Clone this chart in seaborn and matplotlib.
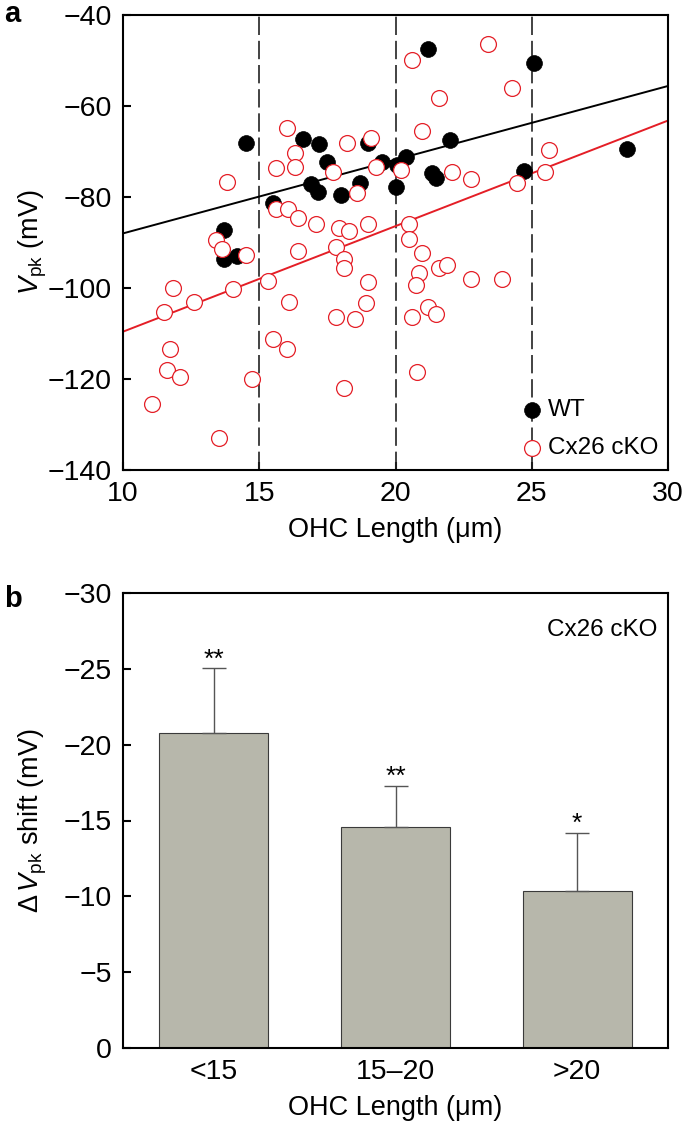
import matplotlib
matplotlib.use("Agg")
import matplotlib.pyplot as plt
import seaborn as sns
import pandas as pd

# panel a: OHC length vs Vpk
wt_length = [14.5, 16.6, 16.9, 17.15, 17.2, 17.5, 18.0, 18.7, 19.0, 19.5, 20.0, 20.05,
             20.4, 21.2, 22.0, 21.35, 21.5, 25.1, 24.7, 28.5, 15.5, 13.7, 13.7, 14.2]
wt_vpk = [-68.2, -67.3, -77.2, -78.8, -68.4, -72.2, -79.6, -76.9, -68.1, -72.2, -77.7, -73.0,
          -71.3, -47.5, -67.5, -74.8, -75.9, -50.6, -74.2, -69.5, -81.4, -87.3, -93.6, -92.9]

ko_length = [16.0, 16.33, 15.6, 16.33, 13.8, 15.6, 16.06, 16.42, 13.42, 20.59, 23.4, 21.58,
             20.98, 18.22, 19.1, 17.7, 19.3, 20.19, 18.6, 22.07, 22.78, 17.09, 17.92, 18.3,
             19.0, 20.49, 20.49, 17.82, 20.98, 24.28, 25.65, 25.47, 24.47, 13.63, 14.52, 16.42,
             11.83, 11.5, 12.62, 14.03, 15.31, 16.09, 11.72, 11.63, 12.11, 14.72, 15.51, 16.02,
             11.05, 13.53, 18.1, 18.1, 19.0, 20.85, 20.76, 21.58, 21.88, 22.78, 18.9, 17.82,
             18.51, 21.2, 21.49, 20.59, 20.8, 18.1, 23.9]
ko_vpk = [-64.9, -70.3, -73.6, -73.3, -76.6, -82.7, -82.6, -84.7, -89.5, -49.9, -46.4, -58.3,
          -65.5, -68.1, -67.1, -74.4, -73.5, -74.1, -79.2, -74.4, -76.1, -86.0, -86.9, -87.4,
          -86.0, -86.0, -89.3, -91.0, -92.2, -56.1, -69.7, -74.6, -77.0, -91.5, -92.7, -91.9,
          -100.1, -105.2, -103.1, -100.3, -98.4, -103.0, -113.5, -118.0, -119.6, -120.1, -111.2, -113.3,
          -125.5, -133.0, -93.7, -95.7, -98.6, -96.8, -99.3, -95.5, -95.0, -98.0, -103.4, -106.3,
          -106.9, -104.2, -105.7, -106.4, -118.4, -121.9, -98.1]

# regression lines
fit_x = [10, 30]
wt_fit_y = [-88.0, -55.6]
ko_fit_y = [-109.6, -63.2]
bin_edges = [15, 20, 25]

# panel b: shift per length bin
groups = ["<15", "15\u201320", ">20"]
shift_mean = [-20.8, -14.6, -10.35]
shift_sem = [4.25, 2.7, 3.85]
stars = ["**", "**", "*"]

red = "#e41e26"
bar_color = "#b7b7ab"

sns.set_style("ticks")
plt.rcParams["font.family"] = ["Liberation Sans", "DejaVu Sans"]
plt.rcParams["mathtext.fontset"] = "custom"
plt.rcParams["mathtext.rm"] = "Liberation Sans"
plt.rcParams["mathtext.it"] = "Liberation Sans:italic"
plt.rcParams["mathtext.bf"] = "Liberation Sans:bold"
for k in ("text.color", "axes.labelcolor", "xtick.color", "ytick.color", "axes.edgecolor"):
    plt.rcParams[k] = "black"

fig = plt.figure(figsize=(6.85, 11.31), dpi=100)
W, H = 685, 1131
ax1 = fig.add_axes([123 / W, 1 - 470 / H, 545 / W, 455 / H])
ax2 = fig.add_axes([123 / W, 1 - 1048 / H, 545 / W, 455 / H])

# ---- panel a
for xv in bin_edges:
    ax1.axvline(xv, color="#222222", lw=1.2, ls=(0, (11, 3.5)), zorder=1)
sns.lineplot(x=fit_x, y=wt_fit_y, ax=ax1, color="black", lw=1.4, zorder=2)
sns.lineplot(x=fit_x, y=ko_fit_y, ax=ax1, color=red, lw=1.4, zorder=2)
sns.scatterplot(x=wt_length, y=wt_vpk, ax=ax1, color="black", edgecolor="black",
                s=130, linewidth=0.5, label="WT", zorder=3)
sns.scatterplot(x=ko_length, y=ko_vpk, ax=ax1, color="white", edgecolor=red,
                s=130, linewidth=0.9, label="Cx26 cKO", zorder=4)

ax1.set_xlim(10, 30)
ax1.set_ylim(-140, -40)
ax1.set_xticks([10, 15, 20, 25, 30])
ax1.set_yticks(range(-140, -39, 20))
ax1.set_xlabel("OHC Length (\u03bcm)", fontsize=19.5, labelpad=7)
ax1.set_ylabel(r"$V_{\rm pk}$ (mV)", fontsize=19.5)
ax1.yaxis.set_label_coords(-0.136, 0.5)

h, l = ax1.get_legend_handles_labels()
keep = [i for i, t in enumerate(l) if t in ("WT", "Cx26 cKO")]
ax1.legend([h[i] for i in keep], [l[i] for i in keep], loc="lower left",
           bbox_to_anchor=(0.728, 0.024), frameon=False, fontsize=17.5,
           handlelength=1.0, handletextpad=0.15, labelspacing=0.65,
           borderpad=0, borderaxespad=0, scatterpoints=1)

# ---- panel b
df = pd.DataFrame({"group": groups, "shift": shift_mean})
sns.barplot(data=df, x="group", y="shift", ax=ax2, color=bar_color, saturation=1,
            width=0.6, edgecolor="#3a3a3a", linewidth=0.8, errorbar=None, zorder=2)
ax2.errorbar(x=list(range(len(groups))), y=shift_mean, yerr=[shift_sem, [0] * len(groups)],
             fmt="none", ecolor="#555555", elinewidth=1.0, capsize=8.3, capthick=1.0, zorder=3)
for i, (m, e, s) in enumerate(zip(shift_mean, shift_sem, stars)):
    ax2.text(i, m - e - 0.1, s, ha="center", va="baseline", fontsize=19)

ax2.set_xlim(-0.5, 2.5)
ax2.set_ylim(0, -30)
ax2.set_yticks(range(0, -31, -5))
ax2.set_xlabel("OHC Length (\u03bcm)", fontsize=19.5, labelpad=7)
ax2.set_ylabel(r"$\Delta\,V_{\rm pk}$ shift (mV)", fontsize=19.5)
ax2.yaxis.set_label_coords(-0.136, 0.5)
ax2.text(0.98, 0.918, "Cx26 cKO", transform=ax2.transAxes, ha="right", va="center", fontsize=17.5)

for ax in (ax1, ax2):
    for sp in ax.spines.values():
        sp.set_visible(True)
        sp.set_linewidth(1.5)
        sp.set_color("black")
    ax.tick_params(direction="in", length=6, width=1.5, labelsize=20.5, pad=8, color="black")
ax2.tick_params(axis="x", length=0)

fig.text(4 / W, 1.0, "a", fontsize=21, fontweight="bold", ha="left", va="top")
fig.text(4 / W, 1 - 607 / H, "b", fontsize=21, fontweight="bold", ha="left", va="baseline")

fig.savefig("out.png", dpi=100)
